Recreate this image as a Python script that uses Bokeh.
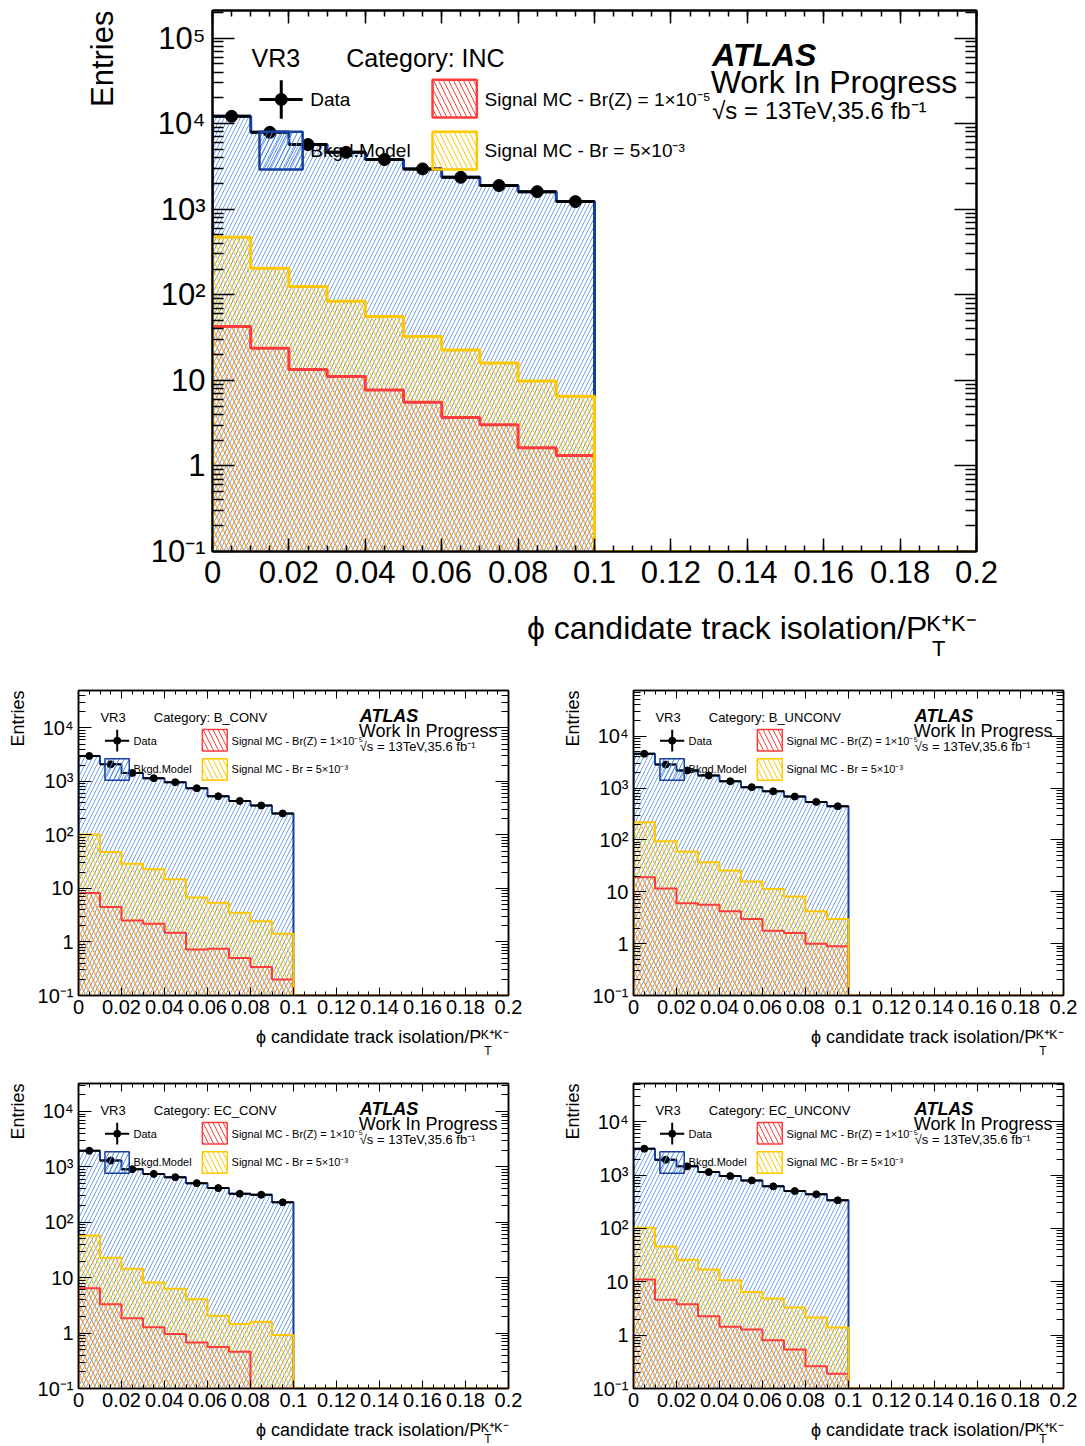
import numpy as np
from bokeh.plotting import figure
from bokeh.models import Range1d, LogAxis, LinearAxis, FixedTicker, Label, Title
from bokeh.layouts import column, row
from bokeh.embed import file_html
from bokeh.resources import INLINE

# ---------------- data ----------------
bin_edges = [round(0.01 * i, 2) for i in range(21)]
x_tick_values = [0.0, 0.02, 0.04, 0.06, 0.08, 0.1, 0.12, 0.14, 0.16, 0.18, 0.2]
x_tick_labels = ["0", "0.02", "0.04", "0.06", "0.08", "0.1", "0.12", "0.14", "0.16", "0.18", "0.2"]
y_tick_values = [0.1, 1, 10, 100, 1000, 10000, 100000]
y_tick_labels = ["10\u207b\u00b9", "1", "10", "10\u00b2", "10\u00b3", "10\u2074", "10\u2075"]

categories = ["INC", "B_CONV", "B_UNCONV", "EC_CONV", "EC_UNCONV"]
y_max = [2.1e5, 5.0e4, 7.6e4, 3.2e4, 5.2e4]

data_inc = [12170, 7910, 5690, 4620, 3800, 2960, 2360, 1890, 1605, 1227, 0, 0, 0, 0, 0, 0, 0, 0, 0, 0]
bkg_inc = [12170, 7910, 5690, 4620, 3800, 2960, 2360, 1890, 1605, 1227, 0, 0, 0, 0, 0, 0, 0, 0, 0, 0]
sigz_inc = [42.5, 23.7, 13.4, 11.1, 7.7, 5.55, 3.67, 3.02, 1.63, 1.32, 0, 0, 0, 0, 0, 0, 0, 0, 0, 0]
sigbr_inc = [470, 204, 125, 84, 55.6, 32.5, 22.7, 16.0, 9.8, 6.5, 0, 0, 0, 0, 0, 0, 0, 0, 0, 0]

data_bconv = [3000, 2090, 1440, 1150, 967, 746, 529, 432, 355, 252, 0, 0, 0, 0, 0, 0, 0, 0, 0, 0]
bkg_bconv = [3000, 2090, 1440, 1150, 967, 746, 529, 432, 355, 252, 0, 0, 0, 0, 0, 0, 0, 0, 0, 0]
sigz_bconv = [8.2, 4.5, 2.52, 2.19, 1.48, 0.72, 0.75, 0.5, 0.34, 0.20, 0, 0, 0, 0, 0, 0, 0, 0, 0, 0]
sigbr_bconv = [102, 48, 29, 22.9, 14.8, 6.75, 5.4, 3.5, 2.43, 1.43, 0, 0, 0, 0, 0, 0, 0, 0, 0, 0]

data_bunconv = [4570, 2850, 2180, 1740, 1350, 1040, 866, 686, 541, 446, 0, 0, 0, 0, 0, 0, 0, 0, 0, 0]
bkg_bunconv = [4570, 2850, 2180, 1740, 1350, 1040, 866, 686, 541, 446, 0, 0, 0, 0, 0, 0, 0, 0, 0, 0]
sigz_bunconv = [19, 11.6, 6.0, 5.6, 4.2, 3.0, 1.78, 1.6, 1.0, 0.89, 0, 0, 0, 0, 0, 0, 0, 0, 0, 0]
sigbr_bunconv = [219, 94, 60, 37, 25.6, 15.8, 11.3, 8.1, 4.2, 3.0, 0, 0, 0, 0, 0, 0, 0, 0, 0, 0]

data_ecconv = [1960, 1300, 908, 748, 653, 509, 414, 327, 314, 229, 0, 0, 0, 0, 0, 0, 0, 0, 0, 0]
bkg_ecconv = [1960, 1300, 908, 748, 653, 509, 414, 327, 314, 229, 0, 0, 0, 0, 0, 0, 0, 0, 0, 0]
sigz_ecconv = [6.45, 3.33, 1.85, 1.27, 0.96, 0.68, 0.56, 0.46, 0, 0, 0, 0, 0, 0, 0, 0, 0, 0, 0, 0]
sigbr_ecconv = [57.7, 22.9, 14.5, 8.2, 6.3, 4.1, 2.05, 1.46, 1.6, 0.92, 0, 0, 0, 0, 0, 0, 0, 0, 0, 0]

data_ecunconv = [3120, 1940, 1455, 1138, 957, 794, 614, 501, 436, 336, 0, 0, 0, 0, 0, 0, 0, 0, 0, 0]
bkg_ecunconv = [3120, 1940, 1455, 1138, 957, 794, 614, 501, 436, 336, 0, 0, 0, 0, 0, 0, 0, 0, 0, 0]
sigz_ecunconv = [11, 4.6, 3.8, 2.26, 1.43, 1.27, 0.80, 0.54, 0.26, 0.19, 0, 0, 0, 0, 0, 0, 0, 0, 0, 0]
sigbr_ecunconv = [103, 46, 26, 16.9, 10.7, 6.45, 4.85, 3.3, 2.13, 1.39, 0, 0, 0, 0, 0, 0, 0, 0, 0, 0]

# ---------------- style ----------------
FONT = "Liberation Sans"
BLUE_LINE = "#133f9e"
BLUE_HATCH = "#4f8ae8"
YELLOW = "#ffc800"
RED = "#ff3c3c"

big = dict(fw=764, fh=541, bt=10,
           tick_fs=31, x_standoff=9, y_standoff=7,
           xmaj=13, xmin=6, ymaj=22, ymin=11, tick_w=1.5, frame_w=2,
           entries_fs=31, entries_so=54,
           title_fs=32, title_so=46, title_off=0,
           sub_fs=22, sub_so=-68, sub_off=31,
           cat_fs=25, leg_fs=19, atlas_fs=32, wip_fs=32, lumi_fs=24,
           hist_w=3, mk=12, hatch_b=8, hatch_s=10, box_w=2.5)
small_common = dict(fw=430, fh=305, bt=10,
                    tick_fs=20, x_standoff=4, y_standoff=5,
                    xmaj=8, xmin=4, ymaj=13, ymin=7, tick_w=1, frame_w=1.5,
                    entries_fs=18, entries_so=12,
                    title_fs=18, title_so=19, title_off=0,
                    sub_fs=12, sub_so=-27, sub_off=17,
                    cat_fs=13, leg_fs=11, atlas_fs=18, wip_fs=18, lumi_fs=13,
                    hist_w=2, mk=7, hatch_b=8, hatch_s=10, box_w=1.5)


def outline_path(values, floor):
    xs, ys = [bin_edges[0]], [floor]
    for i, v in enumerate(values):
        h = max(v, floor)
        xs += [bin_edges[i], bin_edges[i + 1]]
        ys += [h, h]
    xs.append(bin_edges[-1])
    ys.append(floor)
    return xs, ys


def make_title(text, fs, align, valign, standoff, offset):
    t = Title(text=text, align=align, vertical_align=valign, offset=offset,
              text_font=FONT, text_font_size=f"{fs}px", text_font_style="normal",
              text_color="black")
    try:
        t.standoff = int(standoff)
    except ValueError:
        t.standoff = 0
    return t


def make_panel(cat, ymax, data, bkg, sigz, sigbr, st, bl, br, bb, sub_shift=0):
    lmin, lmax = -1.0, np.log10(ymax)
    floor = 0.1
    p = figure(x_range=Range1d(0, 0.2), y_range=Range1d(0.1, ymax), y_axis_type="log",
               frame_width=st["fw"], frame_height=st["fh"],
               min_border_left=bl, min_border_right=br,
               min_border_top=st["bt"], min_border_bottom=bb,
               output_backend="svg", toolbar_location=None,
               background_fill_color="white", border_fill_color="white")
    p.xgrid.visible = False
    p.ygrid.visible = False
    p.outline_line_color = "black"
    p.outline_line_width = st["frame_w"]

    def fx(f):
        return 0.2 * f

    def fy(f):
        return float(10 ** (lmin + f * (lmax - lmin)))

    xminor = [round(0.005 * i, 3) for i in range(41)]
    yminor = [m * 10.0 ** e for e in range(-1, 6) for m in range(2, 10)]

    def style(ax, maj, mnr, labels):
        ax.major_tick_in = int(maj)
        ax.major_tick_out = 0
        ax.minor_tick_in = int(mnr)
        ax.minor_tick_out = 0
        ax.axis_line_color = "black"
        ax.axis_line_width = st["frame_w"]
        ax.major_tick_line_width = st["tick_w"]
        ax.minor_tick_line_width = st["tick_w"]
        ax.major_tick_line_color = "black"
        ax.minor_tick_line_color = "black"
        if labels is None:
            ax.major_label_text_font_size = "1px"
            ax.major_label_text_alpha = 0
            ax.major_label_standoff = 0
        else:
            ax.major_label_text_font = FONT
            ax.major_label_text_font_size = f"{st['tick_fs']}px"
            ax.major_label_text_color = "black"
            ax.major_label_overrides = labels

    xa = p.below[0]
    xa.ticker = FixedTicker(ticks=x_tick_values, minor_ticks=xminor)
    style(xa, st["xmaj"], st["xmin"], dict(zip(x_tick_values, x_tick_labels)))
    xa.major_label_standoff = st["x_standoff"]
    ya = p.left[0]
    ya.ticker = FixedTicker(ticks=y_tick_values, minor_ticks=yminor)
    style(ya, st["ymaj"], st["ymin"], dict(zip(y_tick_values, y_tick_labels)))
    ya.major_label_standoff = st["y_standoff"]

    top_ax = LinearAxis(ticker=FixedTicker(ticks=x_tick_values, minor_ticks=xminor))
    style(top_ax, st["xmaj"], st["xmin"], None)
    p.add_layout(top_ax, "above")
    right_ax = LogAxis(ticker=FixedTicker(ticks=y_tick_values, minor_ticks=yminor))
    style(right_ax, st["ymaj"], st["ymin"], None)
    p.add_layout(right_ax, "right")

    # axis titles (side panels, outside the frame)
    p.add_layout(make_title("Entries", st["entries_fs"], "right", "middle", st["entries_so"], 0), "left")
    p.add_layout(make_title("\u03d5 candidate track isolation/P\u1d37\u207a\u1d37\u207b", st["title_fs"],
                            "right", "middle", st["title_so"], st["title_off"]), "below")
    p.add_layout(make_title("T", st["sub_fs"], "right", "top", st["sub_so"] - sub_shift,
                            st["sub_off"]), "below")

    lefts = bin_edges[:-1]
    rights = bin_edges[1:]

    def hatched(values, color, pattern, alpha, scale, weight):
        l = [lefts[i] for i, v in enumerate(values) if v > 0]
        r = [rights[i] for i, v in enumerate(values) if v > 0]
        t = [v for v in values if v > 0]
        p.quad(left=l, right=r, bottom=floor, top=t, fill_color=None, line_color=None,
               hatch_pattern=pattern, hatch_color=color, hatch_alpha=alpha,
               hatch_scale=scale, hatch_weight=weight)

    # background model and signals
    hatched(bkg, BLUE_HATCH, "/", 0.8, st["hatch_b"], 1)
    hatched(sigbr, YELLOW, "\\", 0.8, st["hatch_s"], 1.3)
    hatched(sigz, RED, "\\", 0.3, st["hatch_s"], 1.3)
    xs, ys = outline_path(bkg, floor)
    p.line(xs, ys, line_color=BLUE_LINE, line_width=st["hist_w"])
    xs, ys = outline_path(sigz, floor)
    p.line(xs, ys, line_color=RED, line_width=st["hist_w"])
    xs, ys = outline_path(sigbr, floor)
    p.line(xs, ys, line_color=YELLOW, line_width=st["hist_w"])

    # data
    dl = [lefts[i] for i, v in enumerate(data) if v > 0]
    dr = [rights[i] for i, v in enumerate(data) if v > 0]
    dc = [(lefts[i] + rights[i]) / 2 for i, v in enumerate(data) if v > 0]
    dv = [v for v in data if v > 0]
    p.segment(x0=dl, x1=dr, y0=dv, y1=dv, line_color="black", line_width=st["hist_w"])
    p.scatter(x=dc, y=dv, size=st["mk"], color="black", marker="circle")

    # legend and texts inside the frame
    def lab(fxv, fyv, text, fs, **kw):
        args = dict(text_font=FONT, text_font_size=f"{fs}px", text_baseline="middle",
                    text_align="left", text_color="black")
        args.update(kw)
        p.add_layout(Label(x=fx(fxv), y=fy(fyv), text=text, **args))

    lab(0.051, 0.913, "VR3", st["cat_fs"])
    lab(0.175, 0.913, "Category: " + cat, st["cat_fs"])

    p.segment(x0=[fx(0.0615)], x1=[fx(0.118)], y0=[fy(0.8355)], y1=[fy(0.8355)],
              line_color="black", line_width=st["hist_w"])
    p.segment(x0=[fx(0.090)], x1=[fx(0.090)], y0=[fy(0.800)], y1=[fy(0.871)],
              line_color="black", line_width=st["hist_w"])
    p.scatter(x=[fx(0.090)], y=[fy(0.8355)], size=st["mk"], color="black", marker="circle")
    lab(0.128, 0.8355, "Data", st["leg_fs"])

    def box(x0, x1, y0, y1, color, hcolor, pattern):
        p.quad(left=[fx(x0)], right=[fx(x1)], bottom=[fy(y0)], top=[fy(y1)],
               fill_color=None, line_color=color, line_width=st["box_w"],
               hatch_pattern=pattern, hatch_color=hcolor, hatch_scale=st["hatch_s"],
               hatch_weight=1)

    box(0.0615, 0.118, 0.706, 0.776, BLUE_LINE, BLUE_HATCH, "/")
    lab(0.128, 0.741, "Bkgd.Model", st["leg_fs"])
    box(0.288, 0.346, 0.802, 0.872, RED, RED, "\\")
    lab(0.356, 0.8355, "Signal MC - Br(Z) = 1\u00d710\u207b\u2075", st["leg_fs"])
    box(0.288, 0.346, 0.706, 0.776, YELLOW, YELLOW, "\\")
    lab(0.356, 0.741, "Signal MC - Br = 5\u00d710\u207b\u00b3", st["leg_fs"])

    lab(0.654, 0.917, "ATLAS", st["atlas_fs"], text_font_style="bold italic")
    lab(0.652, 0.867, "Work In Progress", st["wip_fs"])
    lab(0.654, 0.815, "\u221as = 13TeV,35.6 fb\u207b\u00b9", st["lumi_fs"])
    return p


p_inc = make_panel(categories[0], y_max[0], data_inc, bkg_inc, sigz_inc, sigbr_inc, big, 212, 101, 129)
p_bc = make_panel(categories[1], y_max[1], data_bconv, bkg_bconv, sigz_bconv, sigbr_bconv, small_common, 78, 47, 78)
p_bu = make_panel(categories[2], y_max[2], data_bunconv, bkg_bunconv, sigz_bunconv, sigbr_bunconv, small_common, 78, 14, 78)
p_ec = make_panel(categories[3], y_max[3], data_ecconv, bkg_ecconv, sigz_ecconv, sigbr_ecconv, small_common, 78, 47, 58, sub_shift=10)
p_eu = make_panel(categories[4], y_max[4], data_ecunconv, bkg_ecunconv, sigz_ecunconv, sigbr_ecunconv, small_common, 78, 14, 58, sub_shift=10)

layout = column(p_inc, row(p_bc, p_bu), row(p_ec, p_eu))
open("out.html", "w").write(file_html(layout, INLINE))
